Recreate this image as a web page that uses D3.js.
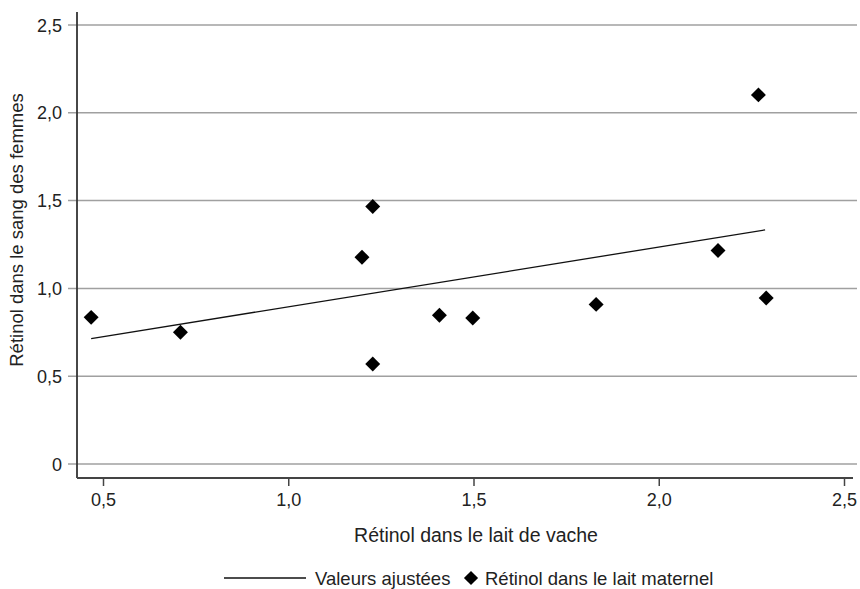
<!DOCTYPE html>
<html lang="fr">
<head>
<meta charset="UTF-8">
<script src="https://d3js.org/d3.v7.min.js"></script>
<title>Rétinol</title>
<style>
    body { margin: 0; background: #fff; }
    text { font-family: 'Liberation Sans', Arial, sans-serif; fill: #222; }
    .grid line { stroke: #a0a0a0; stroke-width: 1.5; }
    .axis path, .axis line { stroke: #444; }
</style>
</head>
<body>
<svg width="860" height="589"></svg>
<script>
    // données
    const laitVache = [0.468, 0.709, 1.199, 1.228, 1.228, 1.408, 1.498, 1.831, 2.160, 2.269, 2.290];
    const sangFemmes = [0.835, 0.750, 1.178, 1.466, 0.570, 0.847, 0.831, 0.909, 1.216, 2.102, 0.945];
    const ajusteX = [0.468, 2.287];
    const ajusteY = [0.714, 1.333];
    const xTicks = [0.5, 1.0, 1.5, 2.0, 2.5];
    const yTicks = [0, 0.5, 1.0, 1.5, 2.0, 2.5];

    const svg = d3.select("svg");
    const fmt = d => d === 0 ? "0" : d3.format(".1f")(d).replace(".", ",");

    const x = d3.scaleLinear().domain([0.5, 2.5]).range([103, 844]);
    const y = d3.scaleLinear().domain([0, 2.5]).range([464, 25]);
    const left = 77, bottom = 478, right = 857;

    // grille horizontale
    svg.append("g").attr("class", "grid")
        .selectAll("line").data(yTicks).enter().append("line")
        .attr("x1", left - 9).attr("x2", right)
        .attr("y1", y).attr("y2", y);

    // axe Y
    const yAxis = svg.append("g").attr("class", "axis")
        .attr("transform", `translate(${left},0)`)
        .call(d3.axisLeft(y).tickValues(yTicks).tickFormat(fmt).tickSize(0).tickPadding(15));
    yAxis.select(".domain").remove();
    yAxis.selectAll("text").style("font-size", "18px").attr("dy", "0.34em");
    svg.append("line").attr("x1", left).attr("x2", left).attr("y1", 12).attr("y2", bottom)
        .attr("stroke", "#333").attr("stroke-width", 1.8);

    // axe X
    const xAxis = svg.append("g").attr("class", "axis")
        .attr("transform", `translate(0,${bottom})`)
        .call(d3.axisBottom(x).tickValues(xTicks).tickFormat(fmt).tickSize(8).tickPadding(7));
    xAxis.select(".domain").remove();
    xAxis.selectAll("line").attr("stroke-width", 1.5);
    xAxis.selectAll("text").style("font-size", "18px");
    svg.append("line").attr("x1", left).attr("x2", 853).attr("y1", bottom).attr("y2", bottom)
        .attr("stroke", "#444").attr("stroke-width", 2);

    // droite ajustée
    svg.append("line")
        .attr("x1", x(ajusteX[0])).attr("y1", y(ajusteY[0]))
        .attr("x2", x(ajusteX[1])).attr("y2", y(ajusteY[1]))
        .attr("stroke", "#111").attr("stroke-width", 1.3);

    // points
    const diamond = d3.symbol().type(d3.symbolSquare).size(112);
    svg.append("g").selectAll("path").data(laitVache).enter().append("path")
        .attr("d", diamond)
        .attr("transform", (d, i) => `translate(${x(d)},${y(sangFemmes[i])}) rotate(45)`)
        .attr("fill", "#000");

    // titres des axes
    svg.append("text").attr("x", 476).attr("y", 542).attr("text-anchor", "middle")
        .style("font-size", "19.5px").text("Rétinol dans le lait de vache");
    svg.append("text").attr("transform", "translate(23,230) rotate(-90)").attr("text-anchor", "middle")
        .style("font-size", "18.5px").text("Rétinol dans le sang des femmes");

    // légende
    const ly = 585;
    svg.append("line").attr("x1", 224).attr("x2", 306).attr("y1", ly - 7).attr("y2", ly - 7)
        .attr("stroke", "#111").attr("stroke-width", 1.3);
    svg.append("text").attr("x", 315).attr("y", ly).style("font-size", "18.5px").text("Valeurs ajustées");
    svg.append("path").attr("d", d3.symbol().type(d3.symbolSquare).size(100))
        .attr("transform", `translate(471,${ly - 7}) rotate(45)`).attr("fill", "#000");
    svg.append("text").attr("x", 485).attr("y", ly).style("font-size", "18.5px").text("Rétinol dans le lait maternel");
</script>
</body>
</html>
